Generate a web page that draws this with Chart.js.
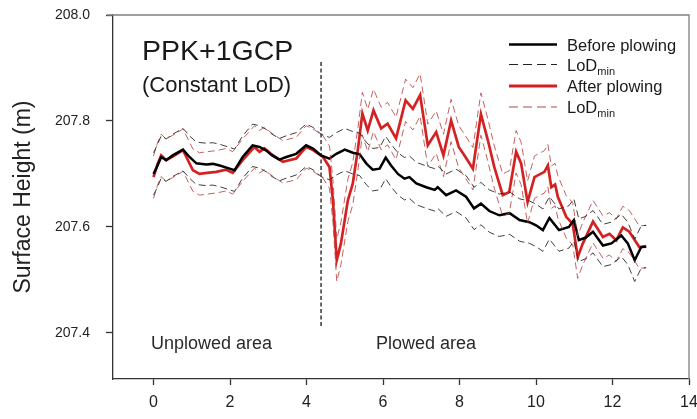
<!DOCTYPE html>
<html>
<head>
<meta charset="utf-8">
<script src="https://cdn.jsdelivr.net/npm/chart.js@4.4.1/dist/chart.umd.min.js"></script>
<style>
  html, body { margin: 0; padding: 0; background: #fff; }
  #wrap { width: 697px; height: 419px; }
</style>
</head>
<body>
<div id="wrap"><canvas id="c" width="697" height="419"></canvas></div>
<script>
// Distance along transect (m) and surface height (m), before plowing
const X_BEFORE = [0.00,0.10,0.20,0.33,0.50,0.77,0.94,1.12,1.38,1.55,1.73,1.99,2.12,2.33,2.59,2.77,2.95,3.10,3.29,3.47,3.73,3.99,4.17,4.38,4.60,4.78,5.00,5.21,5.39,5.56,5.73,5.91,6.07,6.21,6.39,6.56,6.69,6.87,7.13,7.35,7.43,7.65,7.91,8.17,8.38,8.56,8.78,9.04,9.31,9.57,9.83,10.00,10.18,10.35,10.60,10.86,10.99,11.12,11.30,11.49,11.75,11.97,12.23,12.40,12.58,12.75,12.88];
const Y_BEFORE = [207.700,207.715,207.732,207.726,207.735,207.746,207.732,207.720,207.718,207.719,207.716,207.710,207.707,207.732,207.754,207.751,207.744,207.735,207.727,207.732,207.738,207.754,207.748,207.735,207.729,207.738,207.746,207.740,207.737,207.720,207.708,207.710,207.731,207.716,207.700,207.691,207.694,207.682,207.675,207.670,207.675,207.660,207.669,207.657,207.635,207.644,207.630,207.622,207.626,207.613,207.609,207.603,207.594,207.617,207.594,207.600,207.613,207.575,207.580,207.591,207.565,207.569,207.584,207.569,207.537,207.562,207.563];

// Distance along transect (m) and surface height (m), after plowing
const X_AFTER = [0.00,0.10,0.20,0.33,0.50,0.77,1.03,1.20,1.40,1.64,1.90,2.07,2.33,2.64,2.77,2.90,3.07,3.38,3.73,3.99,4.17,4.43,4.60,4.69,4.79,4.90,5.08,5.21,5.34,5.46,5.60,5.75,5.95,6.12,6.34,6.59,6.78,6.97,7.17,7.39,7.58,7.78,7.98,8.13,8.35,8.56,8.74,8.91,9.13,9.30,9.48,9.61,9.78,9.96,10.22,10.31,10.40,10.50,10.57,10.79,10.96,11.09,11.22,11.49,11.75,11.92,12.10,12.27,12.44,12.70,12.88];
const Y_AFTER = [207.694,207.718,207.735,207.726,207.733,207.745,207.707,207.700,207.702,207.704,207.708,207.702,207.726,207.751,207.742,207.748,207.738,207.723,207.729,207.751,207.745,207.732,207.713,207.650,207.537,207.569,207.650,207.682,207.745,207.814,207.782,207.820,207.786,207.795,207.767,207.839,207.823,207.849,207.754,207.779,207.735,207.801,207.751,207.735,207.710,207.813,207.764,207.713,207.660,207.666,207.742,207.720,207.647,207.694,207.704,207.716,207.675,207.680,207.657,207.619,207.606,207.543,207.568,207.610,207.581,207.587,207.575,207.599,207.591,207.562,207.563];

// Constant minimum level of detection (m)
const LOD_MIN = 0.04;

// Boundary between unplowed and plowed area
const BOUNDARY_X = [4.38, 4.38];
const BOUNDARY_Y = [207.413, 207.913];

// Axis ticks
const X_TICKS = [0, 2, 4, 6, 8, 10, 12, 14];
const Y_TICKS = [207.4, 207.6, 207.8, 208.0];

const FONT = '"Liberation Sans", Arial, sans-serif';

const pts = (xs, ys, off = 0) => xs.map((x, i) => ({ x, y: ys[i] + off }));

const lodStyle = (color) => ({
  borderColor: color, borderWidth: 1, borderDash: [7, 4],
  pointRadius: 0, tension: 0, fill: false
});

// Frame, in-plot labels and the legend
const decorations = {
  id: 'decorations',
  afterDraw(chart) {
    const { ctx, chartArea: a } = chart;
    ctx.save();
    // top and right frame
    ctx.strokeStyle = '#808080';
    ctx.lineWidth = 1.3;
    ctx.beginPath();
    ctx.moveTo(a.left - 6, a.top);
    ctx.lineTo(a.right, a.top);
    ctx.lineTo(a.right, a.bottom);
    ctx.stroke();

    ctx.fillStyle = '#1a1a1a';
    ctx.textBaseline = 'alphabetic';
    ctx.textAlign = 'left';
    ctx.font = '28.5px ' + FONT;
    ctx.fillText('PPK+1GCP', a.left + 29, a.top + 45);
    ctx.font = '22px ' + FONT;
    ctx.fillText('(Constant LoD)', a.left + 29, a.top + 77);

    ctx.font = '18px ' + FONT;
    ctx.fillStyle = '#2a2a2a';
    ctx.fillText('Unplowed area', a.left + 38, a.top + 334);
    ctx.fillText('Plowed area', a.left + 263, a.top + 334);

    // legend
    const rows = [
      { y: 44.5, color: '#000', width: 2.5, dash: [], text: 'Before plowing' },
      { y: 64.5, color: '#222', width: 1, dash: [9, 5], text: 'LoD', sub: 'min' },
      { y: 86, color: '#d11f1f', width: 2.8, dash: [], text: 'After plowing' },
      { y: 107, color: '#b54848', width: 1, dash: [9, 5], text: 'LoD', sub: 'min' }
    ];
    const lx0 = 509, lx1 = 557, tx = 567;
    rows.forEach(r => {
      ctx.strokeStyle = r.color;
      ctx.lineWidth = r.width;
      ctx.setLineDash(r.dash);
      ctx.beginPath();
      ctx.moveTo(lx0, r.y);
      ctx.lineTo(lx1, r.y);
      ctx.stroke();
      ctx.setLineDash([]);
      ctx.fillStyle = '#1a1a1a';
      ctx.font = '16.5px ' + FONT;
      const base = r.y + 6;
      ctx.fillText(r.text, tx, base);
      if (r.sub) {
        const w = ctx.measureText(r.text).width;
        ctx.font = '11px ' + FONT;
        ctx.fillText(r.sub, tx + w, base + 4);
      }
    });
    ctx.restore();
  }
};

new Chart(document.getElementById('c'), {
  type: 'line',
  data: {
    datasets: [
      Object.assign({ data: pts(X_BEFORE, Y_BEFORE, LOD_MIN) }, lodStyle('rgba(30,30,30,0.85)')),
      Object.assign({ data: pts(X_BEFORE, Y_BEFORE, -LOD_MIN) }, lodStyle('rgba(30,30,30,0.85)')),
      Object.assign({ data: pts(X_AFTER, Y_AFTER, LOD_MIN) }, lodStyle('rgba(185,70,70,0.85)')),
      Object.assign({ data: pts(X_AFTER, Y_AFTER, -LOD_MIN) }, lodStyle('rgba(185,70,70,0.85)')),
      {
        data: pts(X_BEFORE, Y_BEFORE), borderColor: '#000', borderWidth: 2.5,
        pointRadius: 0, tension: 0, fill: false
      },
      {
        data: pts(X_AFTER, Y_AFTER), borderColor: '#d42222', borderWidth: 2.7,
        pointRadius: 0, tension: 0, fill: false
      },
      {
        data: pts(BOUNDARY_X, BOUNDARY_Y), borderColor: '#444', borderWidth: 1.6,
        borderDash: [4, 2.5], pointRadius: 0, fill: false
      }
    ]
  },
  options: {
    responsive: false,
    animation: false,
    devicePixelRatio: 1,
    layout: { padding: { left: 0, top: 15, right: 8, bottom: 0 } },
    plugins: { legend: { display: false }, tooltip: { enabled: false } },
    scales: {
      x: {
        type: 'linear', min: -1.06, max: 14,
        afterBuildTicks: s => { s.ticks = X_TICKS.map(v => ({ value: v })); },
        afterFit: s => { s.height = 40; s.paddingLeft = 0; s.paddingRight = 0; },
        grid: { drawOnChartArea: false, drawTicks: true, tickLength: 6, tickColor: '#333', tickWidth: 1.3 },
        border: { color: '#333', width: 1.3 },
        ticks: { font: { family: FONT, size: 16 }, color: '#222', padding: 8, maxRotation: 0 }
      },
      y: {
        type: 'linear', min: 207.313, max: 208.0,
        afterBuildTicks: s => { s.ticks = Y_TICKS.map(v => ({ value: v })); },
        afterFit: s => { s.width = 113; s.paddingTop = 0; s.paddingBottom = 0; },
        grid: { drawOnChartArea: false, drawTicks: true, tickLength: 7, tickColor: '#333', tickWidth: 1.3 },
        border: { color: '#333', width: 1.3 },
        ticks: { font: { family: FONT, size: 14 }, color: '#222', padding: 16, callback: v => v.toFixed(1) },
        title: { display: true, text: 'Surface Height (m)', font: { family: FONT, size: 23 }, color: '#222', padding: { top: 10, bottom: 0 } }
      }
    }
  },
  plugins: [decorations]
});
</script>
</body>
</html>
